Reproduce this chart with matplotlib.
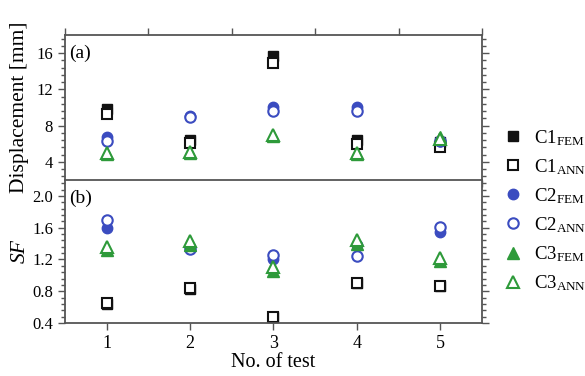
import numpy as np
import matplotlib
matplotlib.use("Agg")
import matplotlib.pyplot as plt
from matplotlib.ticker import MultipleLocator, AutoMinorLocator
from matplotlib.lines import Line2D

plt.rcParams['font.family'] = ['Liberation Serif', 'DejaVu Serif']
plt.rcParams['mathtext.fontset'] = 'custom'
plt.rcParams['mathtext.rm'] = 'Liberation Serif'
plt.rcParams['mathtext.it'] = 'Liberation Serif:italic'

tests = [1, 2, 3, 4, 5]

# (a) displacement [mm]
disp_c1_fem = [9.8, 6.4, 15.7, 6.4, 6.2]
disp_c1_ann = [9.3, 6.1, 14.9, 6.0, 5.6]
disp_c2_fem = [6.8, 9.1, 10.1, 10.1, 6.3]
disp_c2_ann = [6.3, 9.0, 9.6, 9.6, 6.3]
disp_c3_fem = [4.9, 5.0, 6.9, 4.9, 6.8]
disp_c3_ann = [5.0, 5.1, 7.0, 5.0, 6.5]

# (b) safety factor
sf_c1_fem = [0.64, 0.83, 0.47, 0.91, 0.86]
sf_c1_ann = [0.65, 0.84, 0.47, 0.91, 0.86]
sf_c2_fem = [1.60, 1.36, 1.21, 1.38, 1.54]
sf_c2_ann = [1.70, 1.33, 1.26, 1.25, 1.61]
sf_c3_fem = [1.32, 1.38, 1.06, 1.39, 1.18]
sf_c3_ann = [1.36, 1.43, 1.10, 1.45, 1.22]

black = '#111111'
blue = '#3b4cc0'
green = '#2e9a3a'
ms = 7
mew = 1.5

fig = plt.figure(figsize=(5.85, 3.76), dpi=100)
ax1 = fig.add_axes([0.111, 0.521, 0.713, 0.386])
ax2 = fig.add_axes([0.111, 0.141, 0.713, 0.380])


def draw(ax, c1f, c1a, c2f, c2a, c3f, c3a):
    ax.plot(tests, c1f, 's', color=black, ms=ms, ls='none')
    ax.plot(tests, c1a, 's', mfc='white', mec=black, mew=mew, ms=ms, ls='none')
    ax.plot(tests, c2f, 'o', color=blue, ms=ms + 0.5, ls='none')
    ax.plot(tests, c2a, 'o', mfc='white', mec=blue, mew=mew, ms=ms + 0.5, ls='none')
    ax.plot(tests, c3f, '^', color=green, ms=ms + 1, ls='none')
    ax.plot(tests, c3a, '^', mfc='white', mec=green, mew=mew, ms=ms + 1, ls='none')


draw(ax1, disp_c1_fem, disp_c1_ann, disp_c2_fem, disp_c2_ann, disp_c3_fem, disp_c3_ann)
draw(ax2, sf_c1_fem, sf_c1_ann, sf_c2_fem, sf_c2_ann, sf_c3_fem, sf_c3_ann)

for ax in (ax1, ax2):
    ax.set_xlim(0.5, 5.5)
    for s in ax.spines.values():
        s.set_color('#555555')
        s.set_linewidth(1.3)
    ax.tick_params(which='both', direction='out', color='#555555', width=1.0,
                   left=True, right=True, labelsize=12)
    ax.tick_params(which='major', length=5)
    ax.tick_params(which='minor', length=3)
    ax.yaxis.set_minor_locator(AutoMinorLocator(5))

ax1.set_ylim(2, 18)
ax1.yaxis.set_major_locator(MultipleLocator(4))
ax1.xaxis.set_major_locator(MultipleLocator(1))
ax1.xaxis.set_minor_locator(MultipleLocator(0.5))
ax1.tick_params(axis='x', which='both', top=True, bottom=True, labelbottom=False)
ax1.tick_params(axis='x', which='major', length=5, top=False)
ax1.tick_params(axis='x', which='minor', length=5)
ax1.spines['bottom'].set_visible(False)

ax2.set_ylim(0.4, 2.2)
ax2.set_yticks([0.4, 0.8, 1.2, 1.6, 2.0])
ax2.yaxis.set_major_formatter(matplotlib.ticker.FormatStrFormatter('%.1f'))
ax2.set_xticks(tests)
ax2.tick_params(axis='x', which='both', top=False, labelsize=13)
ax2.tick_params(axis='x', which='minor', bottom=False)

ax1.set_ylabel('Displacement [mm]', fontsize=15.5)
ax2.set_ylabel('SF', fontsize=15.5, style='italic')
ax1.yaxis.set_label_coords(-0.085, 0.5)
ax2.yaxis.set_label_coords(-0.085, 0.5)
ax2.set_xlabel('No. of test', fontsize=14.5, labelpad=1)

ax1.text(0.01, 0.93, '(a)', transform=ax1.transAxes, fontsize=14, va='top', ha='left')
ax2.text(0.01, 0.93, '(b)', transform=ax2.transAxes, fontsize=14, va='top', ha='left')

handles = [
    Line2D([], [], marker='s', color=black, ms=ms, ls='none'),
    Line2D([], [], marker='s', mfc='white', mec=black, mew=mew, ms=ms, ls='none'),
    Line2D([], [], marker='o', color=blue, ms=ms + 0.5, ls='none'),
    Line2D([], [], marker='o', mfc='white', mec=blue, mew=mew, ms=ms + 0.5, ls='none'),
    Line2D([], [], marker='^', color=green, ms=ms + 1, ls='none'),
    Line2D([], [], marker='^', mfc='white', mec=green, mew=mew, ms=ms + 1, ls='none'),
]
labels = [r'C1$_{\mathregular{FEM}}$', r'C1$_{\mathregular{ANN}}$', r'C2$_{\mathregular{FEM}}$',
          r'C2$_{\mathregular{ANN}}$', r'C3$_{\mathregular{FEM}}$', r'C3$_{\mathregular{ANN}}$']
fig.legend(handles, labels, loc='upper left', bbox_to_anchor=(0.848, 0.68),
           frameon=False, fontsize=13.5, labelspacing=0.5, handletextpad=0.6,
           handlelength=1.0, borderaxespad=0)

fig.savefig('out.png', dpi=100)
